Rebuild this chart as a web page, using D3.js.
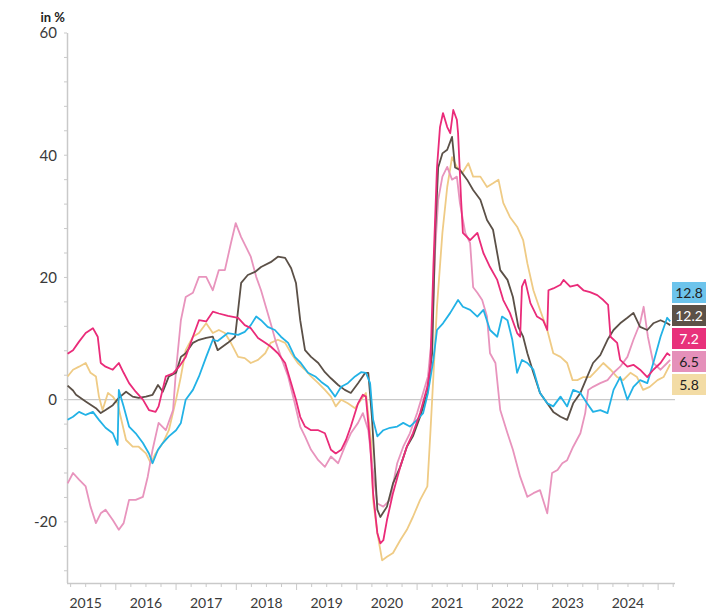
<!doctype html>
<html>
<head>
<meta charset="utf-8">
<title>in %</title>
<script src="https://d3js.org/d3.v7.min.js"></script>
<style>
body { margin: 0; background: #fff; }
text { font-family: Lato, "Open Sans", sans-serif; }
</style>
</head>
<body>
<svg width="722" height="613"></svg>
<script>
// each series: [decimal year, value in %]
var blue_data = [[2015.20, -3.3], [2015.29, -2.8], [2015.39, -2.0], [2015.50, -2.5], [2015.62, -2.0], [2015.72, -3.3], [2015.83, -4.6], [2015.95, -5.5], [2016.03, -7.4], [2016.05, 1.6], [2016.13, -1.1], [2016.22, -4.4], [2016.33, -5.5], [2016.45, -7.1], [2016.55, -8.8], [2016.61, -10.4], [2016.70, -8.2], [2016.78, -7.1], [2016.88, -6.0], [2017.00, -5.0], [2017.08, -3.8], [2017.16, 0], [2017.28, 1.6], [2017.38, 3.8], [2017.50, 7.0], [2017.61, 9.8], [2017.69, 9.6], [2017.86, 10.9], [2018.03, 10.6], [2018.14, 11.1], [2018.24, 12.2], [2018.33, 13.6], [2018.41, 13.0], [2018.52, 11.9], [2018.64, 11.4], [2018.74, 10.3], [2018.86, 9.3], [2018.97, 7.0], [2019.07, 6.0], [2019.19, 4.4], [2019.31, 3.8], [2019.41, 2.9], [2019.52, 2.1], [2019.64, 0.5], [2019.74, 2.1], [2019.85, 2.7], [2019.97, 3.8], [2020.07, 4.5], [2020.15, 4.4], [2020.22, 2.7], [2020.27, -3.3], [2020.34, -6.0], [2020.44, -5.0], [2020.55, -4.6], [2020.67, -4.4], [2020.77, -3.8], [2020.88, -4.4], [2021.00, -3.3], [2021.10, -2.2], [2021.18, 1.1], [2021.27, 6.5], [2021.33, 11.4], [2021.43, 12.5], [2021.55, 14.2], [2021.68, 16.3], [2021.76, 15.2], [2021.88, 14.7], [2022.00, 13.6], [2022.10, 14.7], [2022.21, 11.4], [2022.33, 10.3], [2022.41, 13.6], [2022.50, 13.0], [2022.58, 9.8], [2022.66, 4.4], [2022.74, 6.5], [2022.83, 6.0], [2022.93, 4.9], [2023.04, 1.1], [2023.16, -0.6], [2023.26, -1.1], [2023.38, 0.5], [2023.49, -1.1], [2023.59, 1.6], [2023.71, 1.1], [2023.82, -0.6], [2023.92, -2.0], [2024.04, -1.7], [2024.16, -2.2], [2024.26, 1.6], [2024.37, 3.7], [2024.49, 0], [2024.59, 2.1], [2024.70, 3.2], [2024.82, 2.7], [2024.92, 6.0], [2025.04, 10.3], [2025.15, 13.4], [2025.20, 12.8]]

var brown_data = [[2015.20, 2.3], [2015.29, 1.5], [2015.34, 0.8], [2015.50, -0.3], [2015.67, -1.4], [2015.75, -2.2], [2015.83, -1.7], [2015.95, -0.9], [2016.05, 0.3], [2016.17, 1.3], [2016.28, 0.5], [2016.38, 0.3], [2016.50, 0.5], [2016.61, 0.8], [2016.70, 2.4], [2016.78, 1.3], [2016.88, 3.8], [2017.00, 4.4], [2017.08, 7.0], [2017.16, 7.6], [2017.28, 9.3], [2017.38, 9.8], [2017.50, 10.1], [2017.61, 10.3], [2017.69, 8.1], [2017.86, 9.3], [2017.98, 10.3], [2018.03, 14.7], [2018.08, 19.1], [2018.19, 20.4], [2018.31, 20.9], [2018.41, 21.7], [2018.57, 22.5], [2018.69, 23.4], [2018.81, 23.2], [2018.91, 21.5], [2018.99, 19.1], [2019.06, 13.0], [2019.14, 8.1], [2019.24, 7.0], [2019.36, 6.0], [2019.47, 4.5], [2019.57, 3.5], [2019.69, 2.4], [2019.80, 1.6], [2019.90, 1.1], [2020.02, 2.7], [2020.14, 4.4], [2020.19, 4.4], [2020.25, -2.8], [2020.34, -18], [2020.39, -19.2], [2020.50, -17.5], [2020.60, -13.7], [2020.72, -11], [2020.83, -7.7], [2020.93, -6.0], [2021.05, -2.8], [2021.17, 1.1], [2021.25, 7.6], [2021.30, 27.3], [2021.35, 38], [2021.42, 40.3], [2021.50, 40.9], [2021.58, 43], [2021.63, 38], [2021.71, 37.6], [2021.83, 36], [2021.93, 34.3], [2022.05, 32.7], [2022.16, 29.4], [2022.26, 27.8], [2022.38, 21.2], [2022.50, 19.6], [2022.59, 16.8], [2022.68, 11.9], [2022.76, 10.3], [2022.83, 7.6], [2022.93, 4.4], [2023.04, 1.1], [2023.16, -0.6], [2023.26, -2.0], [2023.38, -2.8], [2023.49, -3.3], [2023.59, -0.6], [2023.71, 1.1], [2023.82, 3.7], [2023.92, 6.0], [2024.04, 7.3], [2024.16, 9.8], [2024.26, 11.4], [2024.37, 12.5], [2024.49, 13.4], [2024.59, 14.2], [2024.70, 11.9], [2024.82, 11.4], [2024.92, 12.5], [2025.04, 13.0], [2025.15, 12.5], [2025.20, 12.2]]

var magenta_data = [[2015.20, 7.5], [2015.29, 8.1], [2015.39, 9.5], [2015.50, 10.9], [2015.62, 11.7], [2015.70, 10.3], [2015.75, 6.0], [2015.83, 5.4], [2015.95, 4.9], [2016.05, 6.0], [2016.13, 4.4], [2016.22, 2.7], [2016.33, 1.3], [2016.45, 0], [2016.55, -1.7], [2016.66, -2.0], [2016.71, -1.1], [2016.83, 3.8], [2016.95, 4.3], [2017.05, 5.4], [2017.16, 7.0], [2017.28, 10.3], [2017.38, 13.0], [2017.50, 12.8], [2017.61, 14.4], [2017.71, 14.1], [2017.86, 13.7], [2018.03, 13.4], [2018.14, 12.2], [2018.24, 11.7], [2018.36, 10.1], [2018.48, 9.3], [2018.57, 8.7], [2018.69, 7.6], [2018.81, 6.0], [2018.91, 2.7], [2018.99, 0], [2019.06, -2.8], [2019.14, -4.4], [2019.24, -5.0], [2019.36, -5.0], [2019.47, -5.5], [2019.57, -8.2], [2019.65, -8.8], [2019.74, -8.2], [2019.82, -6.6], [2019.90, -4.4], [2020.02, -0.6], [2020.10, 0.8], [2020.15, 0.5], [2020.22, -7.1], [2020.27, -15.3], [2020.34, -21.8], [2020.39, -23.5], [2020.44, -23], [2020.50, -19.7], [2020.60, -15.3], [2020.72, -11], [2020.83, -7.7], [2020.93, -5.5], [2021.05, -2.2], [2021.17, 2.1], [2021.22, 5.4], [2021.27, 21.7], [2021.33, 38], [2021.38, 44.6], [2021.43, 46.9], [2021.50, 44.6], [2021.55, 43.6], [2021.60, 47.4], [2021.66, 45.8], [2021.68, 43.6], [2021.73, 32.7], [2021.76, 27.3], [2021.88, 26.1], [2022.00, 27.3], [2022.10, 24], [2022.21, 21.7], [2022.33, 19.6], [2022.43, 16.3], [2022.54, 14.2], [2022.66, 10.9], [2022.71, 10.3], [2022.74, 18.5], [2022.79, 19.6], [2022.88, 15.8], [2022.99, 13.6], [2023.09, 13.0], [2023.16, 11.4], [2023.18, 17.9], [2023.26, 18.2], [2023.38, 18.8], [2023.43, 19.6], [2023.54, 18.5], [2023.66, 18.8], [2023.76, 17.9], [2023.87, 17.6], [2023.99, 17.1], [2024.09, 16.3], [2024.17, 15.5], [2024.21, 10.3], [2024.32, 9.3], [2024.37, 6.5], [2024.49, 5.4], [2024.59, 5.7], [2024.70, 4.9], [2024.82, 3.7], [2024.92, 4.9], [2025.04, 6.0], [2025.15, 7.6], [2025.20, 7.2]]

var pink_data = [[2015.20, -13.7], [2015.29, -12.0], [2015.39, -13.1], [2015.50, -14.2], [2015.58, -17.5], [2015.67, -20.2], [2015.75, -18.6], [2015.83, -18], [2015.95, -19.7], [2016.05, -21.3], [2016.13, -20.2], [2016.22, -16.4], [2016.33, -16.4], [2016.45, -15.9], [2016.53, -12.6], [2016.61, -8.2], [2016.71, -3.8], [2016.83, -5.0], [2016.95, -1.7], [2017.00, 4.9], [2017.08, 13.0], [2017.16, 16.8], [2017.28, 17.5], [2017.38, 20.1], [2017.50, 20.1], [2017.61, 17.9], [2017.71, 21.2], [2017.81, 21.2], [2017.91, 25.6], [2017.99, 28.9], [2018.08, 26.6], [2018.16, 25.0], [2018.24, 23.4], [2018.33, 20.1], [2018.41, 17.9], [2018.49, 15.2], [2018.57, 12.5], [2018.66, 9.3], [2018.74, 7.0], [2018.86, 3.8], [2018.97, -0.6], [2019.06, -4.4], [2019.14, -6.0], [2019.24, -8.2], [2019.36, -9.9], [2019.47, -11.0], [2019.57, -9.3], [2019.69, -10.4], [2019.80, -7.7], [2019.90, -5.5], [2020.02, -3.8], [2020.10, -2.2], [2020.19, -5.0], [2020.25, -10.4], [2020.34, -17], [2020.44, -17.5], [2020.55, -16.4], [2020.67, -10.4], [2020.77, -7.7], [2020.88, -5.5], [2021.00, -2.2], [2021.10, 1.1], [2021.18, 3.8], [2021.25, 10.9], [2021.30, 24.5], [2021.35, 32.7], [2021.42, 36.5], [2021.50, 38.1], [2021.58, 36], [2021.66, 36.5], [2021.71, 32.2], [2021.80, 27.3], [2021.88, 25.6], [2021.93, 18.4], [2022.00, 17.5], [2022.08, 16.3], [2022.16, 13.6], [2022.21, 7.6], [2022.30, 6.0], [2022.38, -1.7], [2022.50, -5.5], [2022.59, -8.2], [2022.71, -12.6], [2022.83, -15.9], [2022.93, -15.3], [2023.04, -14.8], [2023.16, -18.6], [2023.24, -12.0], [2023.33, -11.5], [2023.41, -10.4], [2023.49, -9.9], [2023.59, -7.7], [2023.71, -5.5], [2023.79, -2.2], [2023.84, 1.6], [2023.92, 2.1], [2024.04, 2.7], [2024.16, 3.2], [2024.26, 4.4], [2024.37, 5.4], [2024.49, 7.0], [2024.59, 9.8], [2024.70, 12.5], [2024.76, 15.2], [2024.83, 10.3], [2024.92, 6.0], [2025.04, 4.9], [2025.15, 6.0], [2025.20, 6.5]]

var beige_data = [[2015.20, 3.8], [2015.29, 4.9], [2015.39, 5.4], [2015.50, 6.0], [2015.58, 4.4], [2015.67, 3.8], [2015.72, 0.5], [2015.78, -1.7], [2015.87, 1.1], [2015.95, 0.5], [2016.03, -0.6], [2016.08, -2.8], [2016.17, -6.6], [2016.28, -7.7], [2016.38, -7.7], [2016.50, -8.8], [2016.58, -10.4], [2016.66, -8.8], [2016.78, -7.1], [2016.88, -5.0], [2017.00, 0], [2017.08, 3.8], [2017.16, 8.1], [2017.28, 10.3], [2017.38, 10.9], [2017.50, 12.5], [2017.61, 10.9], [2017.71, 11.4], [2017.81, 10.9], [2017.91, 9.3], [2018.03, 7.0], [2018.14, 6.8], [2018.24, 6.0], [2018.36, 6.5], [2018.48, 7.6], [2018.57, 9.3], [2018.69, 9.8], [2018.81, 9.3], [2018.91, 7.6], [2019.02, 6.0], [2019.14, 4.9], [2019.24, 3.8], [2019.36, 2.7], [2019.47, 1.6], [2019.57, 0.5], [2019.65, -1.1], [2019.74, 0], [2019.85, -0.6], [2019.97, -1.4], [2020.07, 0], [2020.15, 1.1], [2020.24, -7.1], [2020.27, -16.4], [2020.34, -21.8], [2020.42, -26.3], [2020.50, -25.7], [2020.60, -25.1], [2020.72, -23], [2020.83, -21.3], [2020.93, -19.2], [2021.05, -16.4], [2021.17, -14.2], [2021.22, -5.5], [2021.27, 3.8], [2021.33, 15.2], [2021.42, 27.3], [2021.50, 34.8], [2021.58, 39.7], [2021.66, 38.1], [2021.75, 37.1], [2021.85, 38.7], [2021.93, 36.5], [2022.05, 36.5], [2022.16, 34.8], [2022.26, 35.4], [2022.35, 36], [2022.43, 32.2], [2022.54, 29.9], [2022.66, 28.3], [2022.76, 26.1], [2022.83, 22.3], [2022.93, 17.9], [2023.04, 14.7], [2023.16, 11.4], [2023.26, 7.6], [2023.38, 7.0], [2023.49, 6.0], [2023.58, 3.2], [2023.66, 3.2], [2023.76, 3.7], [2023.87, 3.7], [2023.99, 4.9], [2024.09, 6.0], [2024.21, 4.9], [2024.32, 3.7], [2024.42, 3.2], [2024.54, 4.4], [2024.65, 3.7], [2024.75, 1.6], [2024.86, 2.1], [2024.99, 3.2], [2025.09, 3.7], [2025.20, 5.8]]

var years = [2015, 2016, 2017, 2018, 2019, 2020, 2021, 2022, 2023, 2024]
var y_labels = [-20, 0, 20, 40, 60]
var end_values = ["12.8", "12.2", "7.2", "6.5", "5.8"]

var svg = d3.select("svg")
var x = d3.scaleLinear().domain([2015.19, 2025.28]).range([67, 675])
var y = d3.scaleLinear().domain([-30, 60]).range([583, 33])

var axis_color = "#c9c9c9"
var text_color = "#3a3a3a"

// y axis: line, minor ticks every 4, labels every 20
var gy = svg.append("g")
gy.append("line")
    .attr("x1", 67.5).attr("x2", 67.5)
    .attr("y1", y(60)).attr("y2", y(-30))
    .attr("stroke", axis_color).attr("stroke-width", 1.5)
gy.selectAll(".ytick")
    .data(d3.range(-28, 61, 4))
    .enter().append("line")
    .attr("x1", 64).attr("x2", 67)
    .attr("y1", function(d) { return y(d); }).attr("y2", function(d) { return y(d); })
    .attr("stroke", axis_color).attr("stroke-width", 1)
gy.selectAll(".ylabel")
    .data(y_labels)
    .enter().append("text")
    .attr("x", 57).attr("y", function(d) { return y(d); })
    .attr("dy", "0.36em")
    .attr("text-anchor", "end").attr("font-size", "15px")
    .attr("fill", text_color)
    .text(function(d) { return d; })
svg.append("text")
    .attr("x", 65).attr("y", 22)
    .attr("text-anchor", "end").attr("font-size", "13px").attr("font-weight", "bold")
    .attr("fill", "#222")
    .text("in %")

// zero line
svg.append("line")
    .attr("x1", 67).attr("x2", 675)
    .attr("y1", y(0)).attr("y2", y(0))
    .attr("stroke", axis_color).attr("stroke-width", 1.2)

// x axis
var gx = svg.append("g")
gx.append("line")
    .attr("x1", 67).attr("x2", 675)
    .attr("y1", 583.5).attr("y2", 583.5)
    .attr("stroke", axis_color).attr("stroke-width", 1.5)
var quarters = d3.range(2015.25, 2025.26, 0.25)
gx.selectAll(".xtick")
    .data(quarters)
    .enter().append("line")
    .attr("x1", function(d) { return x(d); }).attr("x2", function(d) { return x(d); })
    .attr("y1", 584)
    .attr("y2", function(d) { return d % 1 === 0 ? 590 : 587; })
    .attr("stroke", axis_color).attr("stroke-width", 1)
gx.selectAll(".xlabel")
    .data(years)
    .enter().append("text")
    .attr("x", function(d) { return x(d + 0.5); }).attr("y", 608)
    .attr("text-anchor", "middle").attr("font-size", "14px")
    .attr("fill", text_color)
    .text(function(d) { return d; })

// lines, bottom first
var series = [
    [beige_data, "#efcb85"],
    [pink_data, "#e894bd"],
    [brown_data, "#5b5047"],
    [blue_data, "#22b2e6"],
    [magenta_data, "#ea2b79"],
]
var line = d3.line()
    .x(function(d) { return x(d[0]); })
    .y(function(d) { return y(d[1]); })
svg.selectAll(".series")
    .data(series)
    .enter().append("path")
    .attr("d", function(d) { return line(d[0]); })
    .attr("fill", "none")
    .attr("stroke", function(d) { return d[1]; })
    .attr("stroke-width", 1.8)
    .attr("stroke-linejoin", "round")

// end value boxes
var box_fill = ["#6dc4ec", "#5c5147", "#e8317b", "#e590ba", "#f3dca5"]
var box_text = ["#222", "#fff", "#fff", "#222", "#222"]
var gb = svg.selectAll(".endbox")
    .data(end_values)
    .enter().append("g")
    .attr("transform", function(d, i) { return "translate(672," + (282 + i * 23) + ")"; })
gb.append("rect")
    .attr("width", 34).attr("height", 21)
    .attr("fill", function(d, i) { return box_fill[i]; })
gb.append("text")
    .attr("x", 17).attr("y", 10.5).attr("dy", "0.36em")
    .attr("text-anchor", "middle").attr("font-size", "14px")
    .attr("fill", function(d, i) { return box_text[i]; })
    .text(function(d) { return d; })
</script>
</body>
</html>
